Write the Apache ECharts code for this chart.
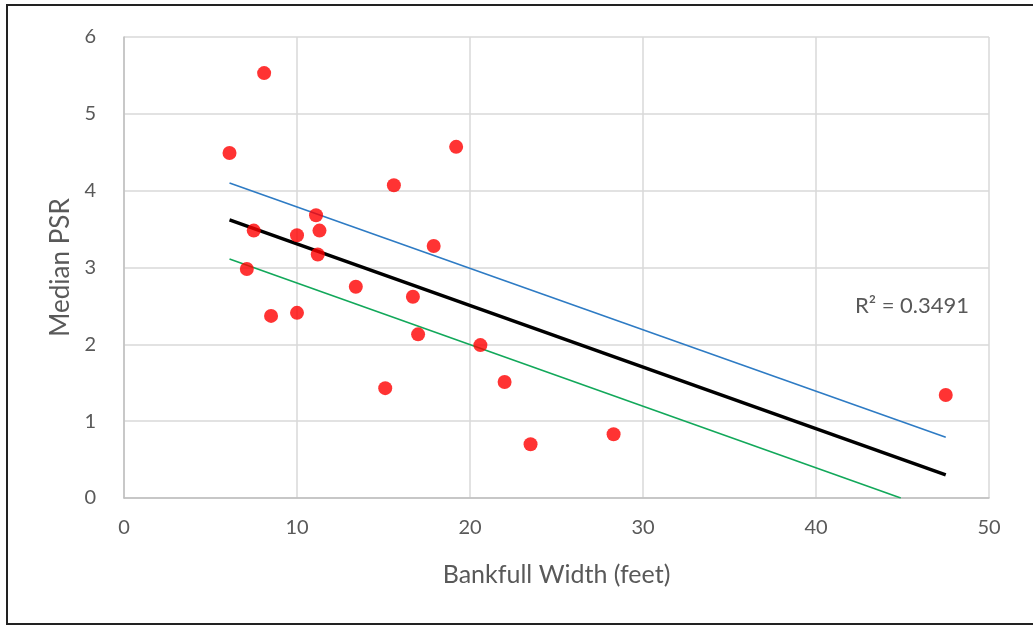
<!DOCTYPE html>
<html>
<head>
<meta charset="utf-8">
<script src="https://cdn.jsdelivr.net/npm/echarts@6/dist/echarts.min.js"></script>
<style>
html,body{margin:0;padding:0;background:#fff;}
#chart{width:1033px;height:626px;}
</style>
</head>
<body>
<div id="chart"></div>
<script>
// Observed points: [Bankfull Width (feet), Median PSR]
const widths = [8.1, 6.1, 19.2, 15.6, 11.1, 7.5, 10.0, 11.3, 11.2, 17.9, 7.1, 13.4, 16.7, 8.5, 10.0, 17.0, 20.6, 15.1, 22.0, 23.5, 28.3, 47.5];
const psr    = [5.53, 4.49, 4.57, 4.07, 3.68, 3.48, 3.42, 3.48, 3.17, 3.28, 2.98, 2.75, 2.62, 2.37, 2.41, 2.13, 1.99, 1.43, 1.51, 0.70, 0.83, 1.34];
// Trend line endpoints
const fitLine   = [[6.1, 3.62], [47.5, 0.30]];
const upperLine = [[6.1, 4.10], [47.5, 0.79]];
const lowerLine = [[6.1, 3.11], [44.9, 0.0]];
const xTicks = [0, 10, 20, 30, 40, 50];
const yTicks = [0, 1, 2, 3, 4, 5, 6];
const r2Text = 'R² = 0.3491';
const xName = 'Bankfull Width (feet)';
const yName = 'Median PSR';

const points = widths.map((w, i) => [w, psr[i]]);
const chart = echarts.init(document.getElementById('chart'), null, {renderer: 'canvas'});
const font = 'Lato, "Open Sans", sans-serif';
chart.setOption({
  animation: false,
  backgroundColor: '#fff',
  grid: {left: 124, right: 44, top: 37, bottom: 128},
  xAxis: {
    type: 'value', min: xTicks[0], max: xTicks[xTicks.length - 1], interval: 10,
    name: xName, nameLocation: 'middle', nameGap: 64,
    nameTextStyle: {color: '#595959', fontSize: 25, fontFamily: font},
    axisLine: {show: true, lineStyle: {color: '#bfbfbf', width: 1.5}},
    axisTick: {show: false},
    axisLabel: {color: '#595959', fontSize: 20, fontFamily: font, margin: 20},
    splitLine: {show: true, lineStyle: {color: '#d9d9d9', width: 1.5}}
  },
  yAxis: {
    type: 'value', min: yTicks[0], max: yTicks[yTicks.length - 1], interval: 1,
    name: yName, nameLocation: 'middle', nameGap: 46, nameRotate: 90,
    nameTextStyle: {color: '#595959', fontSize: 26, fontFamily: font},
    axisLine: {show: true, lineStyle: {color: '#bfbfbf', width: 1.5}},
    axisTick: {show: false},
    axisLabel: {color: '#595959', fontSize: 20, fontFamily: font, margin: 28},
    splitLine: {show: true, lineStyle: {color: '#d9d9d9', width: 1.5}}
  },
  graphic: [
    {type: 'rect', shape: {x: 7, y: 5, width: 1060, height: 619},
     style: {fill: null, stroke: '#222', lineWidth: 2}, silent: true, z: 100},
    {type: 'text', x: 912, y: 306,
     style: {text: r2Text, fill: '#595959', font: '22px ' + font, textAlign: 'center', textVerticalAlign: 'middle'}}
  ],
  series: [
    {type: 'line', data: upperLine, symbol: 'none', lineStyle: {color: '#2e7bc4', width: 1.6}, z: 3},
    {type: 'line', data: lowerLine, symbol: 'none', lineStyle: {color: '#12a85a', width: 1.6}, z: 3},
    {type: 'line', data: fitLine, symbol: 'none', lineStyle: {color: '#000', width: 3.5}, z: 4},
    {type: 'scatter', data: points, symbol: 'circle', symbolSize: 14, itemStyle: {color: '#ff0000'}, z: 5}
  ]
});
</script>
</body>
</html>
